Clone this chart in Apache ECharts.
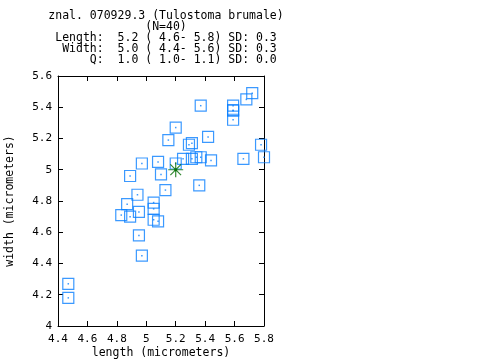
<!DOCTYPE html>
<html><head><meta charset="utf-8">
<script src="https://cdn.jsdelivr.net/npm/echarts@6/dist/echarts.min.js"></script>
<style>html,body{margin:0;padding:0;background:#fff}#c{width:480px;height:360px}</style>
</head><body><div id="c"></div>
<script>
const titleLines = [
  "znal. 070929.3 (Tulostoma brumale)",
  "(N=40)",
  "Length:  5.2 ( 4.6- 5.8) SD: 0.3",
  " Width:  5.0 ( 4.4- 5.6) SD: 0.3",
  "     Q:  1.0 ( 1.0- 1.1) SD: 0.0"
];
const xName = "length (micrometers)";
const yName = "width (micrometers)";
const lengths = [5.72,5.68,5.37,5.59,5.59,5.59,5.20,5.15,5.42,5.29,5.31,5.78,4.97,5.08,5.25,5.31,5.34,5.37,5.44,5.66,5.80,5.20,4.89,5.10,5.36,5.13,4.94,4.87,5.05,5.05,4.83,4.89,4.95,5.05,5.08,4.95,4.97,4.47,4.47,5.59];
const widths  = [5.49,5.45,5.41,5.41,5.38,5.32,5.27,5.19,5.21,5.16,5.17,5.16,5.04,5.05,5.07,5.07,5.08,5.08,5.06,5.07,5.08,5.04,4.96,4.97,4.90,4.87,4.84,4.78,4.79,4.75,4.71,4.70,4.73,4.68,4.67,4.58,4.45,4.27,4.18,5.38];
const meanPoint = [5.2, 5.0];
const xMin = 4.4, xMax = 5.8, xStep = 0.2;
const yMin = 4.0, yMax = 5.6, yStep = 0.2;

const pts = lengths.map((l, i) => [l, widths[i]]);
const font = "DejaVu Sans Mono";
const fmt = v => String(+v.toFixed(1));
const blue = '#0a80ff';

const chart = echarts.init(document.getElementById('c'), null, {renderer: 'canvas'});
chart.setOption({
  animation: false,
  backgroundColor: '#fff',
  title: {
    text: titleLines.join('\n'),
    left: 161, top: 6, textAlign: 'center',
    textStyle: {fontFamily: font, fontSize: 11.5, fontWeight: 'normal', color: '#000', lineHeight: 11}
  },
  grid: {left: 58, right: 216, top: 76, bottom: 34, containLabel: false, outerBoundsMode: 'none'},
  xAxis: [{
    type: 'value', min: xMin, max: xMax, interval: xStep,
    name: xName, nameLocation: 'middle', nameGap: 21, nameMoveOverlap: false,
    nameTextStyle: {fontFamily: font, fontSize: 11.5, color: '#000'},
    axisLine: {lineStyle: {color: '#000', width: 1}},
    axisTick: {inside: true, length: 5, lineStyle: {color: '#000'}},
    axisLabel: {formatter: fmt, fontFamily: font, fontSize: 11, color: '#000', margin: 8},
    splitLine: {show: false}
  }, {
    type: 'value', position: 'top', min: xMin, max: xMax, interval: xStep,
    axisLine: {lineStyle: {color: '#000', width: 1}},
    axisTick: {inside: true, length: 5, lineStyle: {color: '#000'}},
    axisLabel: {show: false}, splitLine: {show: false}
  }],
  yAxis: [{
    type: 'value', min: yMin, max: yMax, interval: yStep,
    name: yName, nameLocation: 'middle', nameGap: 42, nameRotate: 90, nameMoveOverlap: false,
    nameTextStyle: {fontFamily: font, fontSize: 11.5, color: '#000'},
    axisLine: {show: true, lineStyle: {color: '#000', width: 1}},
    axisTick: {show: true, inside: true, length: 5, lineStyle: {color: '#000'}},
    axisLabel: {formatter: fmt, fontFamily: font, fontSize: 11, color: '#000', margin: 6},
    splitLine: {show: false}
  }, {
    type: 'value', position: 'right', min: yMin, max: yMax, interval: yStep,
    axisLine: {show: true, lineStyle: {color: '#000', width: 1}},
    axisTick: {show: true, inside: true, length: 5, lineStyle: {color: '#000'}},
    axisLabel: {show: false}, splitLine: {show: false}
  }],
  series: [{
    type: 'scatter', data: pts, symbol: 'rect', symbolSize: 11,
    itemStyle: {color: 'rgba(0,0,0,0)', borderColor: blue, borderWidth: 1.2},
    z: 2
  }, {
    type: 'scatter', data: pts, symbol: 'rect', symbolSize: 1.5,
    itemStyle: {color: blue}, z: 3
  }, {
    type: 'scatter', data: [meanPoint], symbol: 'path://M0,-7L0,7M-7,0L7,0M-5,-5L5,5M-5,5L5,-5', symbolSize: 15,
    itemStyle: {color: 'rgba(0,0,0,0)', borderColor: '#006b00', borderWidth: 1.2}, z: 4
  }, {
    type: 'scatter', data: [meanPoint], symbol: 'circle', symbolSize: 3,
    itemStyle: {color: '#006b00'}, z: 5
  }]
});
</script></body></html>
